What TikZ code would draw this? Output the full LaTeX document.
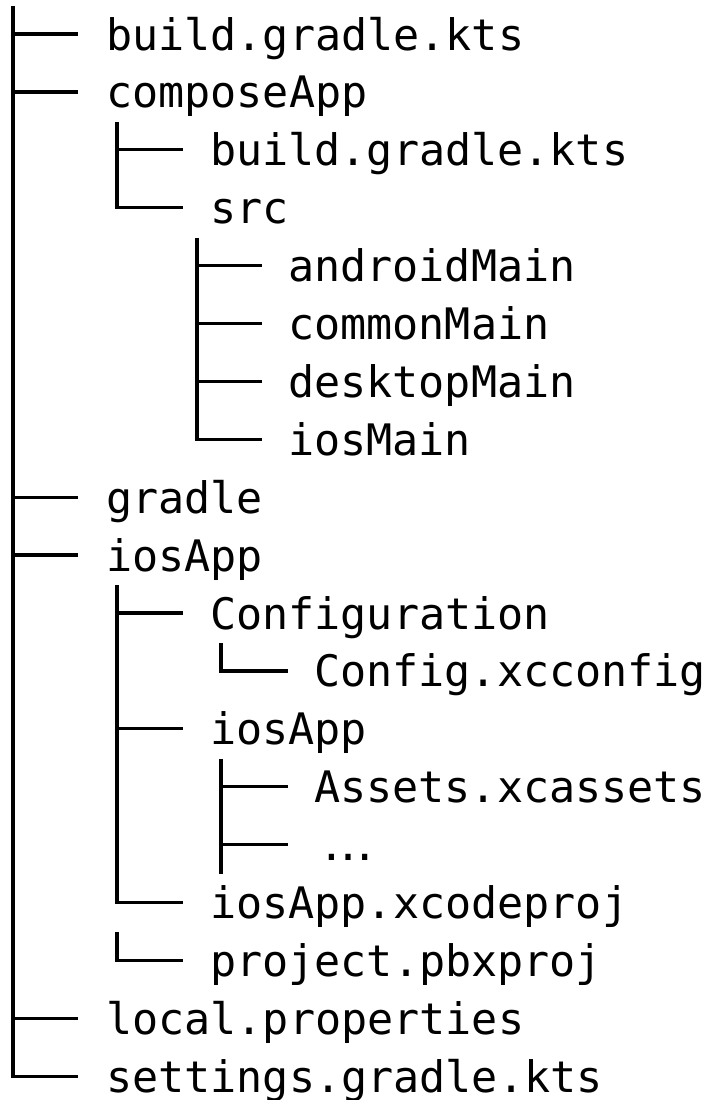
\documentclass[tikz,border=0pt]{standalone}
\usepackage{fontspec}
\newfontfamily\treemono{DejaVu Sans Mono}
\newfontfamily\treesans{DejaVu Sans}

\begin{document}
\begin{tikzpicture}[x=1pt,y=-1pt,
  entry/.style={anchor=west, inner sep=0pt, text height=44pt, text depth=12pt,
    font=\treemono\fontsize{43.4}{52}\selectfont},
  dots/.style={entry, font=\treesans\fontsize{50}{60}\selectfont},
  branch/.style={draw=black, line width=3.3pt, line cap=butt, line join=miter},
]
\useasboundingbox (0,0) rectangle (712,1100);

% entries, one per row (row pitch 57.9)
\node[entry] (r1)  at (106,34)     {build.gradle.kts};
\node[entry] (r2)  at (106,91.9)   {composeApp};
\node[entry] (r3)  at (210,149.8)  {build.gradle.kts};
\node[entry] (r4)  at (210,207.7)  {src};
\node[entry] (r5)  at (288,265.6)  {androidMain};
\node[entry] (r6)  at (288,323.5)  {commonMain};
\node[entry] (r7)  at (288,381.4)  {desktopMain};
\node[entry] (r8)  at (288,439.3)  {iosMain};
\node[entry] (r9)  at (106,497.2)  {gradle};
\node[entry] (r10) at (106,555.1)  {iosApp};
\node[entry] (r11) at (210,613)    {Configuration};
\node[entry] (r12) at (314,670.9)  {Config.xcconfig};
\node[entry] (r13) at (210,728.8)  {iosApp};
\node[entry] (r14) at (314,786.7)  {Assets.xcassets};
\node[dots]  (r15) at (323,844.6)  {…};
\node[entry] (r16) at (210,902.5)  {iosApp.xcodeproj};
\node[entry] (r17) at (210,960.4)  {project.pbxproj};
\node[entry] (r18) at (106,1018.3) {local.properties};
\node[entry] (r19) at (106,1076.2) {settings.gradle.kts};

% tops of the vertical guide lines
\coordinate (t0) at (13,6);
\coordinate (t1) at (117,121.8);
\coordinate (t2) at (197,237.6);
\coordinate (t3) at (117,585);
\coordinate (t4) at (221,642.9);
\coordinate (t5) at (221,758.7);
\coordinate (b5) at (221,874);
\coordinate (t6) at (117,932.4);

% root level
\draw[branch] (t0) |- ([xshift=-28pt]r19.west);
\foreach \r in {r1,r2,r9,r10,r18}
  \draw[branch] (t0 |- \r.west) -- ([xshift=-28pt]\r.west);

% composeApp
\draw[branch] (t1) |- ([xshift=-27pt]r4.west);
\draw[branch] (t1 |- r3.west) -- ([xshift=-27pt]r3.west);

% composeApp/src
\draw[branch] (t2) |- ([xshift=-26pt]r8.west);
\foreach \r in {r5,r6,r7}
  \draw[branch] (t2 |- \r.west) -- ([xshift=-26pt]\r.west);

% iosApp
\draw[branch] (t3) |- ([xshift=-27pt]r16.west);
\foreach \r in {r11,r13}
  \draw[branch] (t3 |- \r.west) -- ([xshift=-27pt]\r.west);

% iosApp/Configuration
\draw[branch] (t4) |- ([xshift=-26pt]r12.west);

% iosApp/iosApp
\draw[branch] (t5) -- (b5);
\draw[branch] (t5 |- r14.west) -- ([xshift=-26pt]r14.west);
\draw[branch] (t5 |- r15.west) -- ([xshift=-35pt]r15.west);

% iosApp.xcodeproj
\draw[branch] (t6) |- ([xshift=-27pt]r17.west);
\end{tikzpicture}
\end{document}
